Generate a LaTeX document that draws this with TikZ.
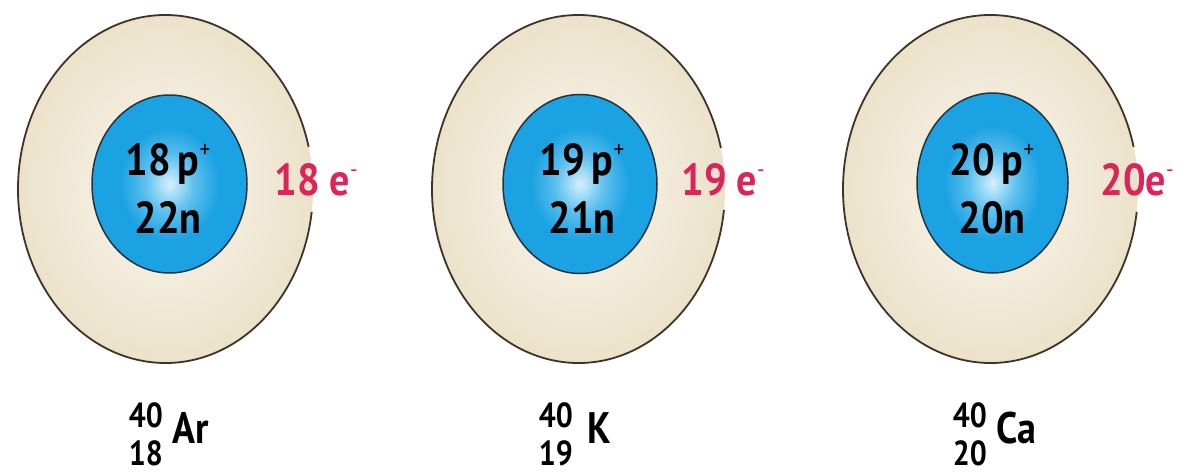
\documentclass[tikz,border=0pt]{standalone}
\usepackage{fontspec}
\setmainfont{PT Sans}
\usetikzlibrary{shapes.geometric}
\definecolor{shellL}{HTML}{FAF7EF}
\definecolor{shellD}{HTML}{ECE2CA}
\definecolor{shellE}{HTML}{3E3328}
\definecolor{nucL}{HTML}{D5F0FC}
\definecolor{nucM}{HTML}{5CC0EE}
\definecolor{nucB}{HTML}{1BA2E2}
\definecolor{nucE}{HTML}{263440}
\definecolor{elec}{HTML}{DC2458}
\pgfdeclareradialshading{nucshade}{\pgfpoint{0bp}{0bp}}{color(0bp)=(nucL); color(8bp)=(nucM); color(16bp)=(nucB); color(25bp)=(nucB); color(50bp)=(nucB)}
\newcommand{\chg}[1]{\raisebox{0.40em}{\fontsize{21}{21}\selectfont\mdseries #1}}
\tikzset{
  shell/.style={ellipse, inner sep=0, outer sep=0, inner color=shellL, outer color=shellD},
  shellline/.style={draw=shellE, line width=1.8pt},
  nucleus/.style={ellipse, inner sep=0, outer sep=0, shading=nucshade, draw=nucE, line width=1.5pt},
  txt/.style={font=\bfseries\fontsize{40}{44}\selectfont, yscale=1.12, inner sep=0, text=black},
  etxt/.style={txt, text=elec},
  iso/.style={font=\bfseries\fontsize{30}{34}\selectfont, yscale=1.16, inner sep=0},
  sym/.style={font=\bfseries\fontsize{38}{44}\selectfont, yscale=1.16, inner sep=0}
}
\begin{document}
\begin{tikzpicture}[x=1pt, y=-1pt]
\useasboundingbox (0,0) rectangle (1194,474);
\fill[white] (0,0) rectangle (1194,474);
\foreach \i/\ox/\orx/\gs/\ge/\ix/\iy/\irx/\iry/\tx/\p/\n/\ex/\e in {
  1/165.5/147.5/7.6/346/169.5/184/77.5/89/168/18/22/316/{18 e},
  2/578.5/146.5/6.9/346.4/580/184/77/89.5/582/19/21/723/{19 e},
  3/990.5/147.5/7.6/346/992.5/183/75.5/90/992/20/20/1137/{20e}} {
  \node[shell, minimum width=2*\orx pt, minimum height=348pt] (shell\i) at (\ox,189) {};
  \draw[shellline] (shell\i.center) ++(\gs:{\orx} and {174}) arc[start angle=\gs, end angle=\ge, x radius=\orx, y radius=174];
  \node[nucleus, minimum width=2*\irx pt, minimum height=2*\iry pt] (nuc\i) at (\ix,\iy) {};
  \node[txt, anchor=base] (p\i) at (\tx,175) {\p\,p\chg{+}};
  \node[txt, anchor=base] (n\i) at (\tx,233) {\n n};
  \node[etxt, anchor=base] (e\i) at (\ex,195) {\e\chg{-}};
}
\node[iso, anchor=base east] (a1) at (163,427) {40};
\node[iso, anchor=base east] (z1) at (163,465) {18};
\node[sym, anchor=base west] (s1) at (172,443) {Ar};
\node[iso, anchor=base east] (a2) at (573,427) {40};
\node[iso, anchor=base east] (z2) at (573,465) {19};
\node[sym, anchor=base west] (s2) at (587,443) {K};
\node[iso, anchor=base east] (a3) at (987,427) {40};
\node[iso, anchor=base east] (z3) at (987,465) {20};
\node[sym, anchor=base west] (s3) at (996,443) {Ca};
\end{tikzpicture}
\end{document}
